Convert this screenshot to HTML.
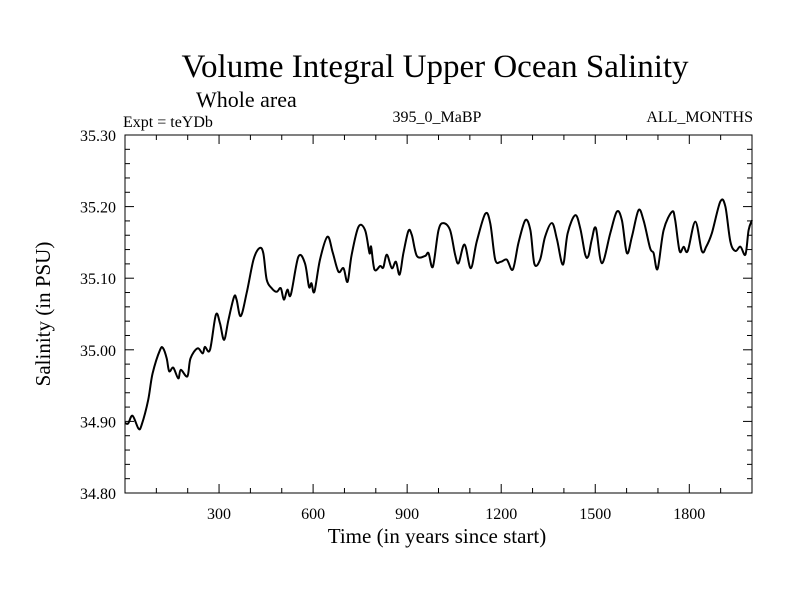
<!DOCTYPE html>
<html><head><meta charset="utf-8"><style>
html,body{margin:0;padding:0;background:#fff;}
svg{display:block;font-family:"Liberation Serif",serif;}
</style></head><body>
<svg id="chart" width="800" height="600" viewBox="0 0 800 600">
<text x="435" y="77" font-size="33" text-anchor="middle">Volume Integral Upper Ocean Salinity</text>
<text x="196" y="107" font-size="22">Whole area</text>
<text x="123" y="127" font-size="16">Expt = teYDb</text>
<text x="437" y="122" font-size="16" text-anchor="middle">395_0_MaBP</text>
<text x="753" y="122" font-size="16" text-anchor="end">ALL_MONTHS</text>
<text x="437" y="543" font-size="21" text-anchor="middle">Time (in years since start)</text>
<text transform="translate(50,314) rotate(-90)" font-size="21" text-anchor="middle">Salinity (in PSU)</text>
<g id="axes"></g>
<path id="line" fill="none" stroke="#000" stroke-width="2" stroke-linejoin="round"></path>
<rect x="125" y="135" width="627" height="358" fill="none" stroke="#000" stroke-width="1"></rect>
</svg>
<script>
const years=[0,10,24,43,53,74,88,112,122,133,141,154,170,178,199,209,231,248,255,271,290,303,316,330,348,356,369,388,410,429,441,452,468,484,497,507,518,529,553,574,587,595,604,622,646,663,681,697,710,723,745,766,780,785,796,814,824,835,851,864,876,888,904,915,931,957,968,982,1000,1016,1037,1053,1064,1083,1103,1122,1149,1165,1181,1199,1218,1237,1255,1277,1293,1306,1324,1340,1362,1378,1397,1412,1436,1452,1468,1478,1489,1502,1521,1548,1569,1585,1601,1617,1638,1654,1675,1686,1699,1718,1745,1755,1769,1782,1795,1819,1840,1854,1872,1899,1915,1931,1947,1963,1979,1989,2000];
const salinity=[34.898,34.897,34.908,34.89,34.895,34.93,34.967,35.0,35.002,34.988,34.97,34.975,34.96,34.972,34.963,34.988,35.002,34.995,35.004,35.0,35.049,35.037,35.014,35.042,35.074,35.07,35.047,35.079,35.126,35.142,35.135,35.098,35.086,35.081,35.086,35.07,35.084,35.077,35.13,35.121,35.088,35.093,35.081,35.126,35.158,35.135,35.109,35.114,35.095,35.133,35.172,35.167,35.135,35.144,35.112,35.117,35.115,35.133,35.114,35.123,35.105,35.135,35.166,35.16,35.131,35.131,35.135,35.116,35.167,35.177,35.167,35.133,35.121,35.147,35.114,35.151,35.19,35.177,35.126,35.123,35.126,35.112,35.149,35.181,35.167,35.12,35.126,35.158,35.177,35.154,35.119,35.163,35.188,35.17,35.133,35.131,35.154,35.17,35.121,35.163,35.193,35.181,35.135,35.158,35.195,35.181,35.142,35.135,35.113,35.167,35.193,35.181,35.138,35.144,35.138,35.179,35.138,35.144,35.163,35.207,35.2,35.151,35.138,35.144,35.133,35.167,35.181];
const xTickLabels=[300,600,900,1200,1500,1800];
const yTickLabels=["34.80","34.90","35.00","35.10","35.20","35.30"];
const X0=125,X1=752,Y0=493,Y1=135,XMIN=0,XMAX=2000,YMIN=34.8,YMAX=35.3;
function xs(v){return X0+(v-XMIN)/(XMAX-XMIN)*(X1-X0);}
function ys(v){return Y0-(v-YMIN)/(YMAX-YMIN)*(Y0-Y1);}
const NS="http://www.w3.org/2000/svg";
const axes=document.getElementById('axes');
function ln(x1,y1,x2,y2,name){const l=document.createElementNS(NS,'line');l.setAttribute('x1',x1);l.setAttribute('y1',y1);l.setAttribute('x2',x2);l.setAttribute('y2',y2);l.setAttribute('stroke','#000');l.setAttribute('stroke-width','1');


axes.appendChild(l);}
function tx(x,y,s,anchor,name){const t=document.createElementNS(NS,'text');t.setAttribute('x',x);t.setAttribute('y',y);t.setAttribute('font-size','16');t.setAttribute('text-anchor',anchor);t.textContent=s;


axes.appendChild(t);}
for(let v=100;v<XMAX;v+=100){const x=xs(v);const major=v%300===0;const L=major?9:5;
ln(x,Y0,x,Y0-L,'x-tick');ln(x,Y1,x,Y1+L,'x-tick-top');}
xTickLabels.forEach(v=>tx(xs(v),519,String(v),'middle','x-tick-label'));
for(let i=0;i<=25;i++){const v=YMIN+i*0.02;const y=ys(v);const major=i%5===0;const L=major?9:5;
ln(X0,y,X0+L,y,'y-tick');ln(X1,y,X1-L,y,'y-tick-right');}
yTickLabels.forEach(s=>tx(116,ys(parseFloat(s))+6,s,'end','y-tick-label'));
const P=years.map((yr,i)=>[xs(yr),ys(salinity[i])]);
let d='M'+P[0][0].toFixed(1)+','+P[0][1].toFixed(1);
for(let i=0;i<P.length-1;i++){const p0=P[Math.max(0,i-1)],p1=P[i],p2=P[i+1],p3=P[Math.min(P.length-1,i+2)];
const c1=[p1[0]+(p2[0]-p0[0])/6,p1[1]+(p2[1]-p0[1])/6],c2=[p2[0]-(p3[0]-p1[0])/6,p2[1]-(p3[1]-p1[1])/6];
d+='C'+c1[0].toFixed(1)+','+c1[1].toFixed(1)+' '+c2[0].toFixed(1)+','+c2[1].toFixed(1)+' '+p2[0].toFixed(1)+','+p2[1].toFixed(1);}
document.getElementById('line').setAttribute('d',d);
</script>
</body></html>
